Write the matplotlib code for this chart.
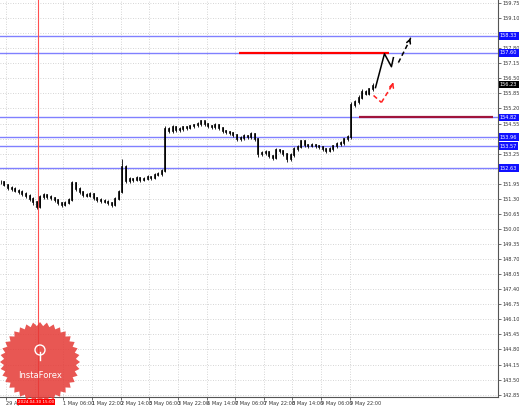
import numpy as np
import matplotlib
matplotlib.use("Agg")
import matplotlib.pyplot as plt
from matplotlib.patches import Polygon, Circle
from matplotlib.transforms import blended_transform_factory

# H1 candles, one every 2 bars (open = previous close)
closes = [152.03, 151.90, 151.77, 151.73, 151.64, 151.60, 151.51, 151.43, 151.30, 151.17,
          150.96, 151.38, 151.47, 151.38, 151.34, 151.25, 151.12, 151.04, 151.12, 151.25,
          151.99, 151.73, 151.60, 151.47, 151.43, 151.51, 151.34, 151.25, 151.21, 151.17,
          151.12, 151.04, 151.30, 151.60, 152.67, 152.07, 152.16, 152.11, 152.20, 152.11,
          152.16, 152.24, 152.20, 152.33, 152.37, 152.50, 154.30, 154.22, 154.39, 154.26,
          154.30, 154.39, 154.35, 154.43, 154.47, 154.52, 154.64, 154.52, 154.43, 154.39,
          154.47, 154.35, 154.22, 154.17, 154.13, 154.05, 153.87, 153.92, 154.00, 153.96,
          154.09, 153.87, 153.23, 153.27, 153.32, 153.14, 153.06, 153.40, 153.36, 153.23,
          153.01, 153.19, 153.44, 153.53, 153.79, 153.62, 153.57, 153.62, 153.57, 153.53,
          153.44, 153.36, 153.44, 153.57, 153.66, 153.70, 153.87, 153.96, 155.37, 155.46,
          155.67, 155.93, 155.84, 156.02, 156.19]
highs = [152.12, 152.08, 151.96, 151.85, 151.80, 151.72, 151.68, 151.58, 151.50, 151.38,
         151.22, 151.45, 151.55, 151.52, 151.46, 151.40, 151.30, 151.18, 151.20, 151.33,
         152.05, 152.02, 151.80, 151.66, 151.55, 151.60, 151.56, 151.40, 151.32, 151.28,
         151.24, 151.18, 151.38, 151.70, 153.00, 152.75, 152.24, 152.22, 152.28, 152.26,
         152.24, 152.31, 152.30, 152.40, 152.45, 152.60, 154.45, 154.40, 154.48, 154.44,
         154.38, 154.46, 154.45, 154.50, 154.55, 154.60, 154.72, 154.68, 154.58, 154.50,
         154.56, 154.52, 154.40, 154.28, 154.24, 154.20, 154.10, 154.00, 154.08, 154.06,
         154.18, 154.14, 153.92, 153.36, 153.42, 153.38, 153.20, 153.48, 153.46, 153.42,
         153.28, 153.26, 153.52, 153.62, 153.86, 153.84, 153.68, 153.70, 153.66, 153.64,
         153.60, 153.50, 153.52, 153.64, 153.74, 153.78, 153.94, 154.04, 155.50, 155.56,
         155.76, 156.02, 156.00, 156.10, 156.28]
lows = [151.95, 151.84, 151.70, 151.66, 151.58, 151.52, 151.44, 151.35, 151.22, 151.05,
        150.86, 150.92, 151.30, 151.28, 151.26, 151.16, 151.04, 150.96, 150.98, 151.08,
        151.20, 151.66, 151.52, 151.40, 151.36, 151.38, 151.27, 151.18, 151.13, 151.10,
        151.03, 150.95, 150.99, 151.24, 151.55, 151.98, 152.00, 152.03, 152.05, 152.02,
        152.05, 152.10, 152.12, 152.15, 152.27, 152.30, 152.45, 154.12, 154.15, 154.18,
        154.20, 154.24, 154.27, 154.30, 154.37, 154.42, 154.46, 154.44, 154.35, 154.30,
        154.33, 154.27, 154.14, 154.08, 154.04, 153.96, 153.78, 153.80, 153.86, 153.88,
        153.90, 153.80, 153.12, 153.15, 153.20, 153.05, 152.96, 153.00, 153.28, 153.15,
        152.90, 152.94, 153.12, 153.38, 153.48, 153.55, 153.50, 153.52, 153.49, 153.46,
        153.36, 153.28, 153.30, 153.38, 153.50, 153.60, 153.64, 153.80, 153.90, 155.28,
        155.38, 155.60, 155.76, 155.78, 155.96]

price_ticks = [142.85, 143.50, 144.15, 144.80, 145.45, 146.10, 146.75, 147.40, 148.05,
               148.70, 149.35, 150.00, 150.65, 151.30, 151.95, 152.60, 153.25, 153.90,
               154.55, 155.20, 155.85, 156.50, 157.15, 157.80, 158.45, 159.10, 159.75]
time_ticks = [3, 19, 35, 51, 67, 83, 99, 115, 131, 147, 163, 179, 195]
time_labels = ["29 Apr 22:00", "", "1 May 06:00", "1 May 22:00", "2 May 14:00",
               "3 May 06:00", "3 May 22:00", "6 May 14:00", "7 May 06:00", "7 May 22:00",
               "8 May 14:00", "9 May 06:00", "9 May 22:00"]

levels = [158.33, 157.60, 154.82, 153.96, 153.57, 152.63]
last_price = 156.23
resist = (133, 217, 157.60)
support = (200, 275, 154.82)
vline_bar = 21
vline_label = "2024.04.30 15:00"

# forecast sketch
up_x = [209.5, 214.5, 218.4, 219.5]
up_y = [156.10, 157.56, 157.00, 157.39]
up_dash_x = [222.3, 228.5]
up_dash_y = [157.18, 158.12]
dn_x = [208.4, 212.8, 219.0]
dn_y = [155.76, 155.46, 156.23]

W, H = 519, 407
fig = plt.figure(figsize=(W / 100, H / 100), dpi=100)
ax = fig.add_axes([0, 10 / H, 498 / W, 397 / H])
ax.set_xlim(-0.5, 278)
ax.set_ylim(142.75, 159.88)

# MT4 hides scale labels that sit under a level label
shown = [p if min(abs(p - lv) for lv in levels) > 0.2 else None for p in price_ticks]
ax.set_yticks(price_ticks)
ax.set_yticklabels(["%.2f" % p if p is not None else "" for p in shown])
ax.yaxis.tick_right()
ax.set_xticks(time_ticks)
ax.set_xticklabels(time_labels)
ax.tick_params(axis="both", labelsize=3.6, colors="#333333", length=2, width=0.5, pad=1)
for lbl in ax.get_xticklabels():
    lbl.set_horizontalalignment("left")
for s in ["top", "left"]:
    ax.spines[s].set_visible(False)
for s in ["right", "bottom"]:
    ax.spines[s].set_color("#555555")
    ax.spines[s].set_linewidth(0.8)
ax.grid(True, color="#c8c8c8", linestyle=(0, (1, 2)), linewidth=0.6)

xb = np.arange(len(closes)) * 2
c = np.array(closes)
o = np.r_[c[0], c[:-1]]
ax.vlines(xb, lows, highs, colors="black", linewidth=0.6, zorder=3)
lc = ax.vlines(xb, o, c, colors="black", linewidth=1.2, zorder=3)
lc.set_capstyle("projecting")

tr = blended_transform_factory(ax.transAxes, ax.transData)
for lv in levels:
    ax.axhline(lv, color="#8080ff", linewidth=1.0, zorder=2)
    ax.text(1.004, lv, "%.2f" % lv, transform=tr, fontsize=3.6, color="white",
            va="center", ha="left", clip_on=False,
            bbox=dict(boxstyle="square,pad=0.25", fc="#1010ff", ec="none"))
ax.text(1.004, last_price, "%.2f" % last_price, transform=tr, fontsize=3.6, color="white",
        va="center", ha="left", clip_on=False,
        bbox=dict(boxstyle="square,pad=0.25", fc="black", ec="none"))

ax.hlines(resist[2], resist[0], resist[1], color="#ff0000", linewidth=1.6, zorder=4)
ax.hlines(support[2], support[0], support[1], color="#a0143c", linewidth=1.6, zorder=4)
ax.axvline(vline_bar, color="#ff5050", linewidth=0.8, zorder=2)

ax.plot(up_x, up_y, color="black", linewidth=1.1, zorder=5)
ax.plot(up_dash_x, up_dash_y, color="black", linewidth=1.1, linestyle=(0, (3, 2)), zorder=5)
ax.annotate("", xy=(up_dash_x[1] + 0.6, up_dash_y[1] + 0.12), xytext=(up_dash_x[1], up_dash_y[1]),
            arrowprops=dict(arrowstyle="->", color="black", lw=1.1, mutation_scale=7))
ax.plot(dn_x[:2], dn_y[:2], color="#ff2020", linewidth=1.1, linestyle=(0, (3, 2)), zorder=5)
ax.plot(dn_x[1:], dn_y[1:], color="#ff2020", linewidth=1.1, linestyle=(0, (3, 2)), zorder=5)
ax.annotate("", xy=(dn_x[2] + 0.4, dn_y[2] + 0.1), xytext=(dn_x[2], dn_y[2]),
            arrowprops=dict(arrowstyle="->", color="#ff2020", lw=1.1, mutation_scale=7))

# overlay in pixel space for the logo and time marker label
ov = fig.add_axes([0, 0, 1, 1], facecolor="none")
ov.set_xlim(0, W)
ov.set_ylim(H, 0)
ov.axis("off")
n = 36
ang = np.linspace(0, 2 * np.pi, 2 * n, endpoint=False)
rad = np.where(np.arange(2 * n) % 2 == 0, 40, 36)
cx, cy = 40, 362
star = Polygon(np.c_[cx + rad * np.cos(ang), cy + rad * np.sin(ang)], closed=True,
               fc="#e53935", ec="none", alpha=0.85, zorder=10)
ov.add_patch(star)
ov.add_patch(Circle((cx, cy - 12), 5, fc="none", ec="white", lw=1.0, zorder=11))
ov.plot([cx, cx], [cy - 10, cy - 2], color="white", lw=1.0, zorder=11)
ov.text(cx, cy + 14, "InstaForex", color="white", fontsize=6, ha="center", va="center", zorder=11)
ov.text(36, 402, vline_label, color="white", fontsize=3.0, ha="center", va="center", zorder=12,
        bbox=dict(boxstyle="square,pad=0.3", fc="#ff0000", ec="none"))

fig.savefig("out.png", dpi=100)
